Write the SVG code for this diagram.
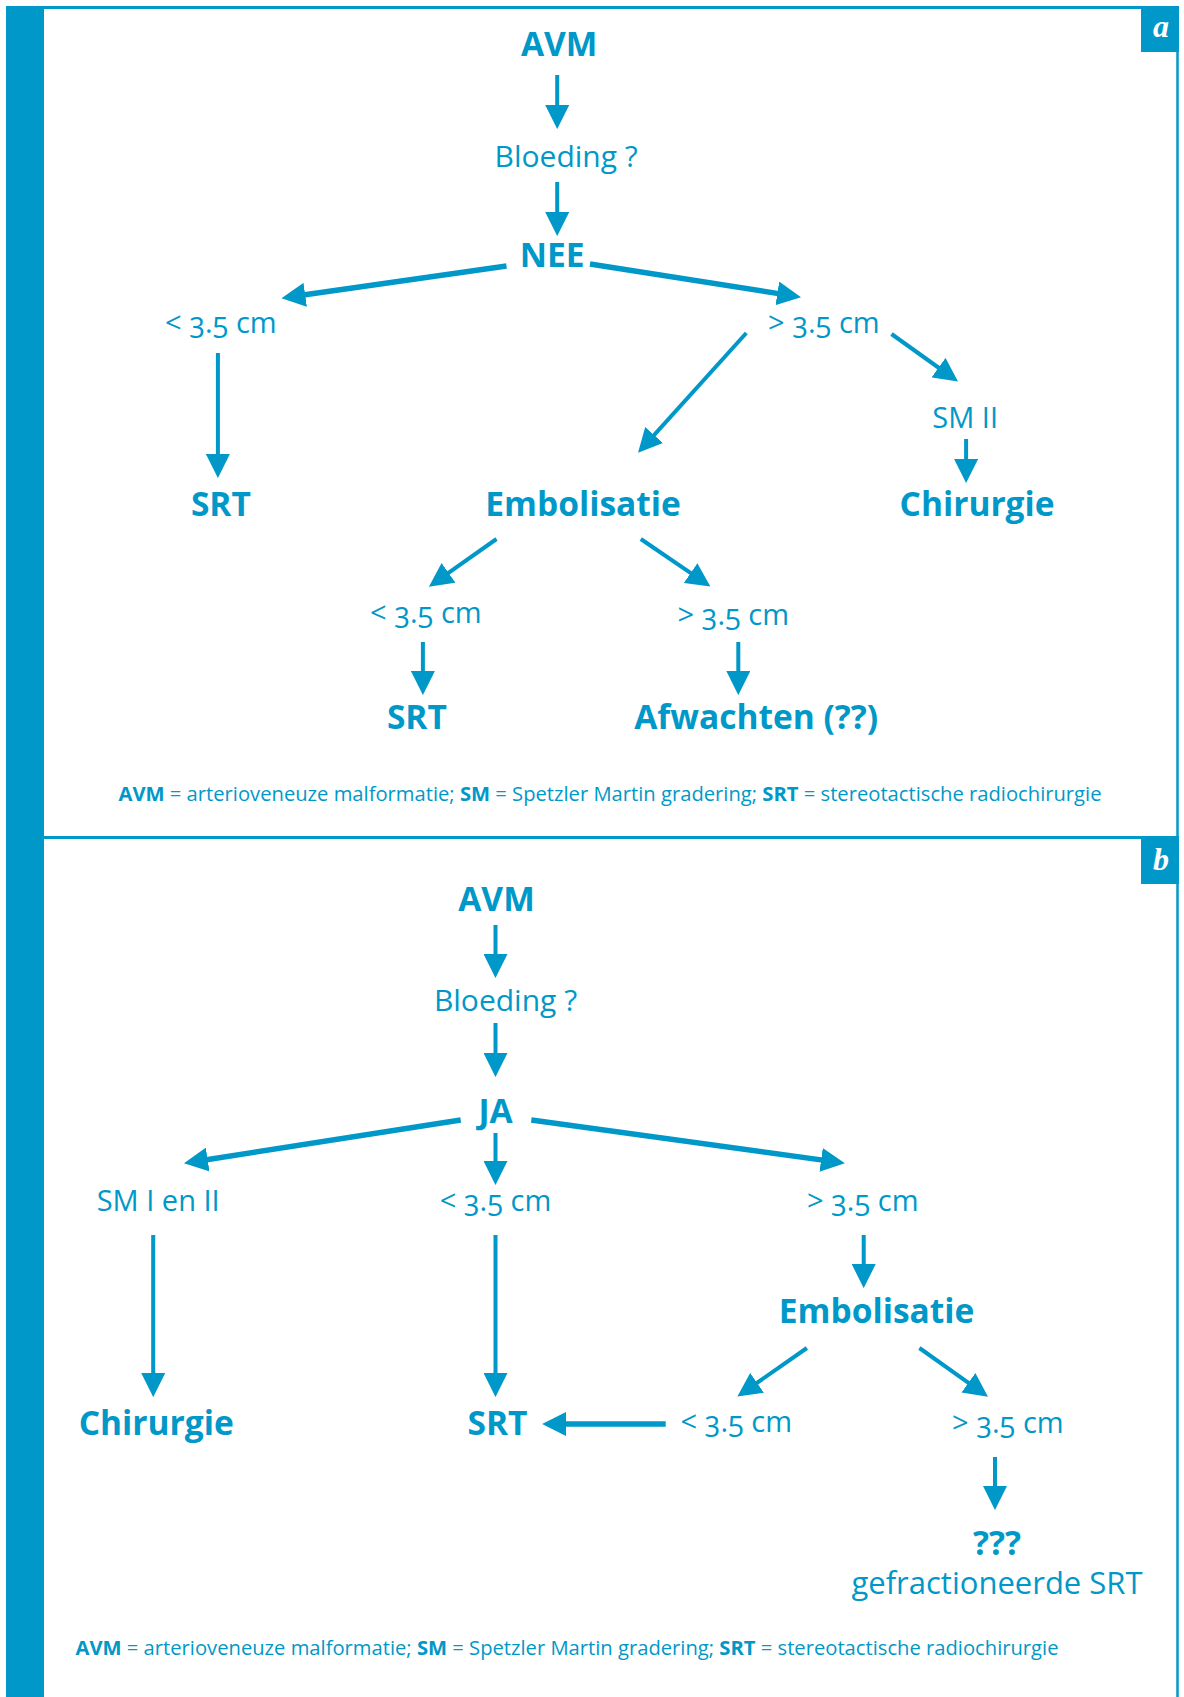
<svg xmlns="http://www.w3.org/2000/svg" width="1184" height="1697" viewBox="0 0 1184 1697">
<style>
  text { font-family: "Open Sans", "Noto Sans", "Liberation Sans", sans-serif; fill: #0098C8; text-anchor: middle; font-variant-numeric: oldstyle-nums; }
  .b { font-weight: 700; font-size: 33.5px; }
  .r { font-size: 29px; }
  .q { font-size: 30px; }
  .q2 { font-size: 31px; }
  .fn { font-size: 20.2px; }
  .fn tspan.k { font-weight: 700; }
  .lbl { font-family: "Liberation Serif", "DejaVu Serif", serif; font-style: italic; font-weight: 700; font-size: 32px; fill: #ffffff; }
  .thin { stroke: #0098C8; stroke-width: 4; fill: none; marker-end: url(#ah); }
  .thick { stroke: #0098C8; stroke-width: 5.5; fill: none; marker-end: url(#ah); }
  .frame { stroke: #0098C8; fill: none; }
</style>
<defs>
  <marker id="ah" markerUnits="userSpaceOnUse" markerWidth="24" markerHeight="24" viewBox="0 0 22 22" refX="10" refY="11" orient="auto">
    <path d="M0,0 L22,11 L0,22 z" fill="#0098C8"/>
  </marker>
</defs>
<rect width="1184" height="1697" fill="#ffffff"/>
<g id="frame">
  <rect x="6" y="6" width="38" height="1691" fill="#0098C8"/>
  <line class="frame" x1="44" y1="7.5" x2="1179" y2="7.5" stroke-width="3"/>
  <line class="frame" x1="44" y1="837.5" x2="1179" y2="837.5" stroke-width="3"/>
  <line class="frame" x1="1177.5" y1="6" x2="1177.5" y2="1697" stroke-width="2.5"/>
  <rect x="1141" y="6" width="38" height="46" fill="#0098C8"/>
  <text class="lbl" x="1161" y="37">a</text>
  <rect x="1141" y="839" width="38" height="45" fill="#0098C8"/>
  <text class="lbl" x="1161" y="870">b</text>
</g>
<g id="connectors">
  <line class="thin" x1="557.2" y1="75" x2="557.2" y2="116"/>
  <line class="thin" x1="557.2" y1="182" x2="557.2" y2="223"/>
  <line class="thick" x1="506.5" y1="266" x2="294.4" y2="296.3"/>
  <line class="thick" x1="590" y1="264" x2="788.1" y2="295.1"/>
  <line class="thin" x1="217.9" y1="353" x2="217.9" y2="465"/>
  <line class="thin" x1="746.3" y1="333" x2="646.8" y2="443.1"/>
  <line class="thin" x1="891.5" y1="334" x2="947.4" y2="374"/>
  <line class="thin" x1="966.1" y1="439" x2="966.1" y2="470"/>
  <line class="thin" x1="496.5" y1="539" x2="439.6" y2="579.1"/>
  <line class="thin" x1="640.8" y1="539" x2="699.6" y2="579.2"/>
  <line class="thin" x1="422.9" y1="642" x2="422.9" y2="682"/>
  <line class="thin" x1="738.3" y1="642" x2="738.3" y2="682"/>
  <line class="thin" x1="495.5" y1="925" x2="495.5" y2="965"/>
  <line class="thin" x1="495.5" y1="1023" x2="495.5" y2="1064"/>
  <line class="thick" x1="460.7" y1="1120" x2="196.9" y2="1161.2"/>
  <line class="thick" x1="531.3" y1="1120" x2="831.9" y2="1161.4"/>
  <line class="thin" x1="495.5" y1="1133" x2="495.5" y2="1172"/>
  <line class="thin" x1="153.2" y1="1235" x2="153.2" y2="1384"/>
  <line class="thin" x1="495.5" y1="1235" x2="495.5" y2="1384"/>
  <line class="thin" x1="863.7" y1="1235" x2="863.7" y2="1275"/>
  <line class="thin" x1="806.9" y1="1348" x2="748.1" y2="1389.1"/>
  <line class="thin" x1="919.4" y1="1348" x2="977.3" y2="1389.1"/>
  <line class="thick" x1="665.7" y1="1424" x2="555.2" y2="1424"/>
  <line class="thin" x1="995" y1="1457" x2="995" y2="1497"/>
</g>
<g id="a-avm"><text class="b" x="559.2" y="56">AVM</text></g>
<g id="a-bloeding"><text class="q" x="566.2" y="167">Bloeding ?</text></g>
<g id="a-nee"><text class="b" x="552.2" y="267">NEE</text></g>
<g id="a-lt1"><text class="r" x="220.9" y="333">&lt; 3.5 cm</text></g>
<g id="a-gt1"><text class="r" x="823.9" y="333">&gt; 3.5 cm</text></g>
<g id="a-smii"><text class="r" x="965.2" y="428">SM II</text></g>
<g id="a-srt1"><text class="b" x="220.9" y="516">SRT</text></g>
<g id="a-embol"><text class="b" x="583.1" y="516">Embolisatie</text></g>
<g id="a-chir"><text class="b" x="977.1" y="516">Chirurgie</text></g>
<g id="a-lt2"><text class="r" x="425.9" y="623">&lt; 3.5 cm</text></g>
<g id="a-gt2"><text class="r" x="733.3" y="625">&gt; 3.5 cm</text></g>
<g id="a-srt2"><text class="b" x="416.9" y="729">SRT</text></g>
<g id="a-afw"><text class="b" x="756.2" y="729">Afwachten (??)</text></g>
<g id="a-foot"><text class="fn" x="610" y="801"><tspan class="k">AVM</tspan> = arterioveneuze malformatie; <tspan class="k">SM</tspan> = Spetzler Martin gradering; <tspan class="k">SRT</tspan> = stereotactische radiochirurgie</text></g>
<g id="b-avm"><text class="b" x="496.5" y="911">AVM</text></g>
<g id="b-bloeding"><text class="q" x="505.5" y="1011">Bloeding ?</text></g>
<g id="b-ja"><text class="b" x="495.5" y="1123">JA</text></g>
<g id="b-sm"><text class="r" x="158.2" y="1211">SM I en II</text></g>
<g id="b-lt1"><text class="r" x="495.5" y="1211">&lt; 3.5 cm</text></g>
<g id="b-gt1"><text class="r" x="862.7" y="1211">&gt; 3.5 cm</text></g>
<g id="b-embol"><text class="b" x="876.6" y="1323">Embolisatie</text></g>
<g id="b-chir"><text class="b" x="156.2" y="1435">Chirurgie</text></g>
<g id="b-srt"><text class="b" x="497.5" y="1435">SRT</text></g>
<g id="b-lt2"><text class="r" x="736.3" y="1432">&lt; 3.5 cm</text></g>
<g id="b-gt2"><text class="r" x="1007.9" y="1433">&gt; 3.5 cm</text></g>
<g id="b-q"><text class="b" x="997" y="1555">???</text></g>
<g id="b-frac"><text class="q2" x="997" y="1594">gefractioneerde SRT</text></g>
<g id="b-foot"><text class="fn" x="567" y="1655"><tspan class="k">AVM</tspan> = arterioveneuze malformatie; <tspan class="k">SM</tspan> = Spetzler Martin gradering; <tspan class="k">SRT</tspan> = stereotactische radiochirurgie</text></g>
</svg>
